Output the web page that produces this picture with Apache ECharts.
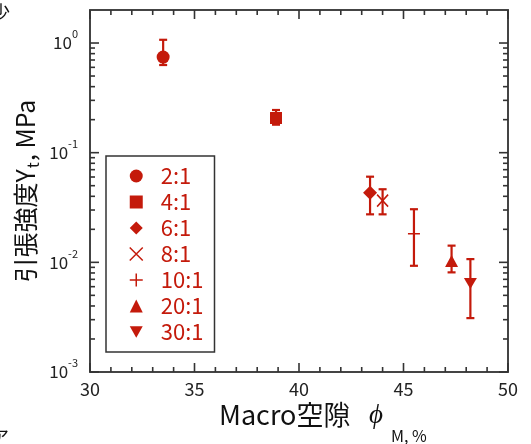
<!DOCTYPE html>
<html>
<head>
<meta charset="utf-8">
<script src="https://cdn.jsdelivr.net/npm/echarts@6/dist/echarts.min.js"></script>
<style>
html,body{margin:0;padding:0;background:#fff}
#main{width:531px;height:444px}
</style>
</head>
<body>
<div id="main"></div>
<script>
// アスペクト比ごとのデータ
var ratios = ['2:1', '4:1', '6:1', '8:1', '10:1', '20:1', '30:1'];
var porosity = [33.5, 38.9, 43.4, 44.0, 45.5, 47.3, 48.2];
var strength = [0.745, 0.207, 0.0432, 0.0365, 0.0182, 0.0103, 0.0064];
var strengthHi = [1.07, 0.245, 0.0604, 0.0464, 0.0305, 0.0142, 0.0107];
var strengthLo = [0.63, 0.18, 0.0274, 0.0274, 0.0093, 0.0081, 0.0031];
var xTicks = [30, 35, 40, 45, 50];
var yDecades = [-3, -2, -1, 0];

var RED = '#c41a0b';
var AXIS = '#444';
var FONT = 'Noto Sans CJK JP';

var symbols = ['circle', 'rect', 'diamond',
  'path://M0,0L10,10M10,0L0,10',
  'path://M0,5L10,5M5,0L5,10',
  'triangle',
  'path://M0,0L10,0L5,8.66Z'];
var sizes = [13, 12, 14, [11, 12], [12, 12], [13, 12], [13, 11]];
var stroked = [false, false, false, true, true, false, false];

var yMax = Math.log10(2);

// 目盛（主目盛と補助目盛）
var xTickVals = [];
for (var v = 30; v <= 50; v++) xTickVals.push(v);
var yTickVals = yDecades.slice();
yDecades.forEach(function (d) {
  if (d >= 0) return;
  for (var k = 2; k <= 9; k++) yTickVals.push(d + Math.log10(k));
});

function xAxisOf(pos) {
  return {
    type: 'value', position: pos, min: 30, max: 50, interval: 5,
    axisLine: {show: true, onZero: false, lineStyle: {color: AXIS, width: 2}},
    axisTick: {show: false},
    axisLabel: {show: pos === 'bottom', color: '#222', fontSize: 18, fontFamily: FONT, margin: 8},
    splitLine: {show: false}
  };
}

function yAxisOf(pos) {
  return {
    type: 'value', position: pos, min: -3, max: yMax,
    axisLine: {show: true, onZero: false, lineStyle: {color: AXIS, width: 2}},
    axisTick: {show: false},
    axisLabel: {
      show: pos === 'left',
      customValues: yDecades,
      margin: 12,
      formatter: function (v) { return '{b|10}{s|' + v + '}'; },
      rich: {
        b: {fontSize: 17, color: '#222', fontFamily: FONT},
        s: {fontSize: 11, color: '#222', fontFamily: FONT, padding: [0, 0, 18, 0]}
      }
    },
    splitLine: {show: false}
  };
}

var series = [
  // 誤差棒
  {
    type: 'custom',
    z: 11,
    encode: {x: 0, y: [1, 2]},
    data: porosity.map(function (x, i) {
      return [x, Math.log10(strengthLo[i]), Math.log10(strengthHi[i])];
    }),
    renderItem: function (params, api) {
      var lo = api.coord([api.value(0), api.value(1)]);
      var hi = api.coord([api.value(0), api.value(2)]);
      var w = 4;
      var st = {stroke: RED, lineWidth: 2.2};
      return {
        type: 'group',
        children: [
          {type: 'line', shape: {x1: lo[0], y1: lo[1], x2: hi[0], y2: hi[1]}, style: st},
          {type: 'line', shape: {x1: lo[0] - w, y1: lo[1], x2: lo[0] + w, y2: lo[1]}, style: st},
          {type: 'line', shape: {x1: hi[0] - w, y1: hi[1], x2: hi[0] + w, y2: hi[1]}, style: st}
        ]
      };
    }
  }
];

ratios.forEach(function (r, i) {
  series.push({
    name: r,
    type: 'scatter',
    z: 12,
    symbol: symbols[i],
    symbolSize: sizes[i],
    itemStyle: stroked[i]
      ? {color: RED, borderColor: RED, borderWidth: 1.6, opacity: 1}
      : {color: RED, borderWidth: 0, opacity: 1},
    data: [[porosity[i], Math.log10(strength[i])]]
  });
});

var texts = [
  {
    type: 'text', x: 25, y: 191, rotation: Math.PI / 2,
    style: {
      text: '{a|引張強度Y}{s|t}{a|, MPa}',
      align: 'center', verticalAlign: 'middle',
      rich: {
        a: {fontSize: 25, fill: '#111', fontFamily: FONT},
        s: {fontSize: 16, fill: '#111', fontFamily: FONT, padding: [16, 1, 0, 1]}
      }
    }
  },
  {
    type: 'text', x: 219, y: 415,
    style: {text: 'Macro空隙 ', fontSize: 27, fill: '#111', fontFamily: FONT, align: 'left', verticalAlign: 'middle'}
  },
  {
    type: 'text', x: 383, y: 413,
    style: {text: 'ϕ', fontSize: 27, fontStyle: 'italic', fill: '#111', fontFamily: FONT, align: 'right', verticalAlign: 'middle'}
  },
  {
    type: 'text', x: 391, y: 436,
    style: {text: 'M, %', fontSize: 16, fill: '#111', fontFamily: FONT, align: 'left', verticalAlign: 'middle'}
  },
  {
    type: 'text', x: -8, y: 12,
    style: {text: '少', fontSize: 18, fill: '#111', fontFamily: FONT, align: 'left', verticalAlign: 'middle'}
  },
  {
    type: 'text', x: -9, y: 437,
    style: {text: 'ア', fontSize: 18, fill: '#111', fontFamily: FONT, align: 'left', verticalAlign: 'middle'}
  }
];

var myChart = echarts.init(document.getElementById('main'));

var option = {
  animation: false,
  grid: {left: 90, right: 23, top: 10, bottom: 72},
  xAxis: [xAxisOf('bottom'), xAxisOf('top')],
  yAxis: [yAxisOf('left'), yAxisOf('right')],
  legend: {
    orient: 'vertical',
    left: 106, top: 156,
    padding: [9, 11, 9, 23],
    itemGap: 4,
    itemWidth: 13, itemHeight: 13,
    borderColor: '#333', borderWidth: 1.5,
    backgroundColor: '#fff',
    textStyle: {color: RED, fontSize: 22, lineHeight: 22, fontFamily: FONT, padding: [0, 0, 0, 13]},
    data: ratios.map(function (r, i) {
      return stroked[i]
        ? {name: r, itemStyle: {color: RED, borderColor: RED, borderWidth: 1.5}}
        : {name: r, itemStyle: {color: RED, borderWidth: 0}};
    })
  },
  graphic: texts,
  series: series
};

myChart.setOption(option);

// 内向きの目盛を軸のスケールから配置
var tickLines = [];
var tickStyle = {stroke: '#333', lineWidth: 1.6};
function addTick(p, dx, dy) {
  tickLines.push({
    type: 'line', z: 50, silent: true,
    shape: {x1: p[0], y1: p[1], x2: p[0] + dx, y2: p[1] + dy},
    style: tickStyle
  });
}
xTickVals.forEach(function (x) {
  var len = x % 5 === 0 ? 9 : 5;
  addTick(myChart.convertToPixel({gridIndex: 0}, [x, -3]), 0, -len);
  addTick(myChart.convertToPixel({gridIndex: 0}, [x, yMax]), 0, len);
});
yTickVals.forEach(function (y) {
  var len = Math.abs(y - Math.round(y)) < 1e-9 ? 9 : 5;
  addTick(myChart.convertToPixel({gridIndex: 0}, [30, y]), len, 0);
  addTick(myChart.convertToPixel({gridIndex: 0}, [50, y]), -len, 0);
});

myChart.setOption({graphic: texts.concat(tickLines)});
</script>
</body>
</html>
